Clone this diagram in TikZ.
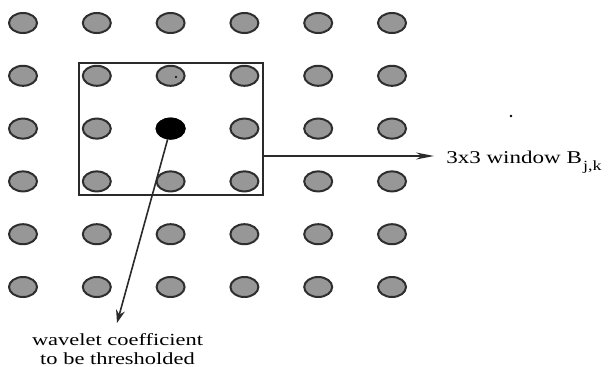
\documentclass[tikz,border=0pt]{standalone}
\usepackage{fontspec}
\setmainfont{Liberation Serif}
\usetikzlibrary{arrows.meta, positioning, shapes.geometric}

\definecolor{coefgray}{HTML}{979797}
\definecolor{rimgray}{HTML}{2E2E2E}
\definecolor{linegray}{HTML}{2A2A2A}

\tikzset{
  coef/.style={draw=rimgray, line width=2pt, fill=coefgray, ellipse, minimum width=28pt, minimum height=20pt, inner sep=0pt},
  window/.style={draw=linegray, line width=1.5pt, minimum width=184pt, minimum height=132pt, inner sep=0pt},
  pointer/.style={draw=linegray, line width=1.6pt},
  lbl/.style={align=center, inner sep=0pt}
}

\begin{document}
\begin{tikzpicture}[x=1pt, y=-1pt]
\useasboundingbox (0,0) rectangle (611,367);

% grid of coefficients
\foreach \i in {0,...,5}
  \foreach \j in {0,...,5}
    \node[coef] (c\i\j) at ({23+73.8*\i},{23+52.8*\j}) {};
\node[coef, fill=black, draw=black] (ctr) at (c22) {};
\fill[black] (176,77) circle (1.2pt);
\fill[black] (511,116) circle (1.4pt);

% 3x3 window
\node[window] (win) at (171,129) {};
\coordinate (wtip) at (434,156);
\draw[pointer, -{Stealth[length=18pt, width=7pt]}] (win.east |- wtip) -- (wtip);
\node[lbl, font=\fontsize{18}{21}\selectfont, anchor=base west, xscale=1.28, transform shape] (wlbl) at (446,163)
  {3x3 window B\hspace{1pt}\raisebox{-7pt}{\fontsize{14}{14}\selectfont j,k}};

% thresholded coefficient
\coordinate (ctip) at (117,323);
\draw[pointer, -{Stealth[length=13pt, width=9pt]}] (ctr) -- (ctip);
\node[lbl, font=\fontsize{17}{19}\selectfont, anchor=base, xscale=1.32, transform shape] (clbl) at (117.5,364)
  {wavelet coefficient\\to be thresholded};
\end{tikzpicture}
\end{document}
